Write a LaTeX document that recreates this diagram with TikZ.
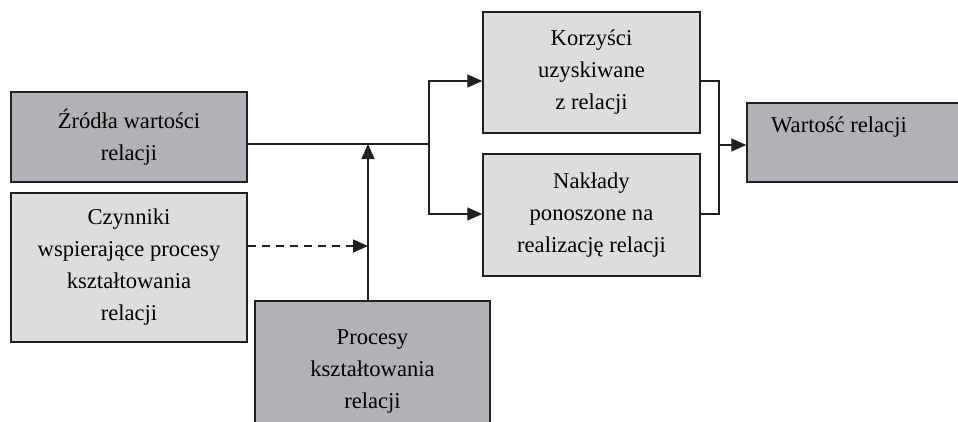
\documentclass[tikz,border=0pt]{standalone}
\usepackage{fontspec}
\setmainfont{Liberation Serif}
\usetikzlibrary{arrows.meta}
\definecolor{darkbox}{HTML}{B1B2B5}
\definecolor{lightbox}{HTML}{DCDDDF}
\definecolor{linecol}{HTML}{231F20}
\begin{document}
\begin{tikzpicture}[x=1pt,y=-1pt,
  txt/.style={font=\fontsize{22.6}{32}\selectfont},
  box/.style={txt,draw=linecol,line width=1.5pt,inner sep=0pt,align=center},
  dark/.style={box,fill=darkbox},
  light/.style={box,fill=lightbox},
  conn/.style={draw=linecol,line width=1.4pt},
  arr/.style={conn,-{Triangle[length=15pt,width=13pt]}}]
\useasboundingbox (0,0) rectangle (958,421);
\clip (0,0) rectangle (958,421);
\fill[white] (0,0) rectangle (958,421);
% boxes
\node[dark,minimum width=236pt,minimum height=90pt] (zrodla) at (129,137)
  {\raisebox{4pt}{\parbox{230pt}{\centering Źródła wartości\\relacji}}};
\node[light,minimum width=236pt,minimum height=149pt] (czynniki) at (129,267.5)
  {Czynniki\\wspierające procesy\\kształtowania\\relacji};
\node[dark,minimum width=235pt,minimum height=140pt] (procesy) at (372.5,371)
  {\raisebox{10pt}{\parbox{230pt}{\centering Procesy\\kształtowania\\relacji}}};
\node[light,minimum width=217pt,minimum height=121pt] (korzysci) at (591.5,72.5)
  {\raisebox{4pt}{\parbox{210pt}{\centering Korzyści\\uzyskiwane\\z relacji}}};
\node[light,minimum width=217pt,minimum height=122pt] (naklady) at (591.5,215)
  {\raisebox{4pt}{\parbox{210pt}{\centering Nakłady\\ponoszone na\\realizację relacji}}};
\node[dark,minimum width=218pt,minimum height=79pt] (wartosc) at (856,142.5) {};
\node[txt,inner sep=0pt] (wlabel) at (839,127) {Wartość relacji};
% connectors
\coordinate (split) at (429,144);
\coordinate (join) at (719,145);
\coordinate (meet) at (368,144);
\coordinate (dashend) at (368,246);
\draw[conn] (zrodla.east |- split) -- (split);
\draw[arr] (split) |- (korzysci.west |- 0,81);
\draw[arr] (split) |- (naklady.west |- 0,214);
\draw[arr] (procesy.north -| meet) -- (meet);
\draw[arr,dash pattern=on 8pt off 6pt] (czynniki.east |- dashend) -- (dashend);
\draw[conn] (korzysci.east |- 0,81) -| (join) |- (naklady.east |- 0,214);
\draw[arr] (join) -- (wartosc.west |- join);
\end{tikzpicture}
\end{document}
